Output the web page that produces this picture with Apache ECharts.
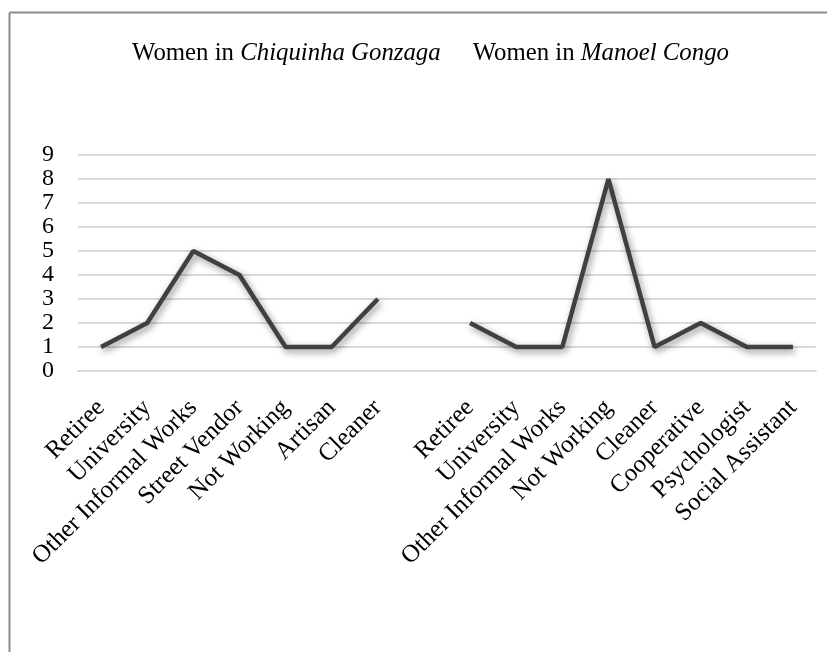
<!DOCTYPE html>
<html>
<head>
<meta charset="utf-8">
<script src="https://cdn.jsdelivr.net/npm/echarts@6/dist/echarts.min.js"></script>
<style>
  html, body { margin: 0; padding: 0; background: #fff; }
  #chart { width: 827px; height: 652px; }
</style>
</head>
<body>
<div id="chart"></div>
<script>
// Occupations of women in the two occupations (blank slot separates the groups)
const categories = [
  'Retiree', 'University', 'Other Informal Works', 'Street Vendor',
  'Not Working', 'Artisan', 'Cleaner',
  '',
  'Retiree', 'University', 'Other Informal Works', 'Not Working',
  'Cleaner', 'Cooperative', 'Psychologist', 'Social Assistant'
];
const seriesNames = ['Women in Chiquinha Gonzaga', 'Women in Manoel Congo'];
const chiquinhaValues = [1, 2, 5, 4, 1, 1, 3, '-', '-', '-', '-', '-', '-', '-', '-', '-'];
const manoelValues = ['-', '-', '-', '-', '-', '-', '-', '-', 2, 1, 1, 8, 1, 2, 1, 1];
const yTicks = { min: 0, max: 9, interval: 1 };

const serif = '"Liberation Serif", "DejaVu Serif", serif';
const lineStyle = {
  color: '#404040',
  width: 4.5,
  shadowColor: 'rgba(0,0,0,0.45)',
  shadowBlur: 7,
  shadowOffsetX: 2,
  shadowOffsetY: 3
};

const chart = echarts.init(document.getElementById('chart'));
chart.setOption({
  animation: false,
  backgroundColor: '#fff',
  graphic: [
    { type: 'line', shape: { x1: 9.5, y1: 12.5, x2: 830, y2: 12.5 }, style: { stroke: '#8c8c8c', lineWidth: 2 } },
    { type: 'line', shape: { x1: 9.5, y1: 12.5, x2: 9.5, y2: 660 }, style: { stroke: '#8c8c8c', lineWidth: 2 } }
  ],
  legend: {
    top: 41,
    left: 127,
    padding: 0,
    icon: 'none',
    itemWidth: 0,
    itemGap: 27,
    data: seriesNames,
    formatter: function (name) {
      const parts = name.split(' in ');
      return 'Women in {i|' + parts[1] + '}';
    },
    textStyle: {
      fontFamily: serif,
      fontSize: 24.8,
      color: '#000',
      rich: {
        i: { fontFamily: serif, fontSize: 24.8, fontStyle: 'italic', color: '#000' }
      }
    }
  },
  grid: { left: 78, right: 11, top: 155, bottom: 281, containLabel: false },
  xAxis: {
    type: 'category',
    data: categories,
    boundaryGap: true,
    axisLine: { show: true, lineStyle: { color: '#d9d9d9', width: 2 } },
    axisTick: { show: false },
    axisLabel: {
      interval: 0,
      rotate: 45,
      margin: 33,
      fontFamily: serif,
      fontSize: 25,
      color: '#000'
    }
  },
  yAxis: {
    type: 'value',
    min: yTicks.min,
    max: yTicks.max,
    interval: yTicks.interval,
    axisLine: { show: false },
    axisTick: { show: false },
    splitLine: { lineStyle: { color: '#d9d9d9', width: 2 } },
    axisLabel: {
      margin: 24,
      fontFamily: serif,
      fontSize: 24,
      color: '#000'
    }
  },
  series: [
    {
      name: seriesNames[0],
      type: 'line',
      data: chiquinhaValues,
      showSymbol: false,
      symbol: 'none',
      lineStyle: lineStyle,
      itemStyle: { color: '#404040' }
    },
    {
      name: seriesNames[1],
      type: 'line',
      data: manoelValues,
      showSymbol: false,
      symbol: 'none',
      lineStyle: lineStyle,
      itemStyle: { color: '#404040' }
    }
  ]
});
</script>
</body>
</html>
